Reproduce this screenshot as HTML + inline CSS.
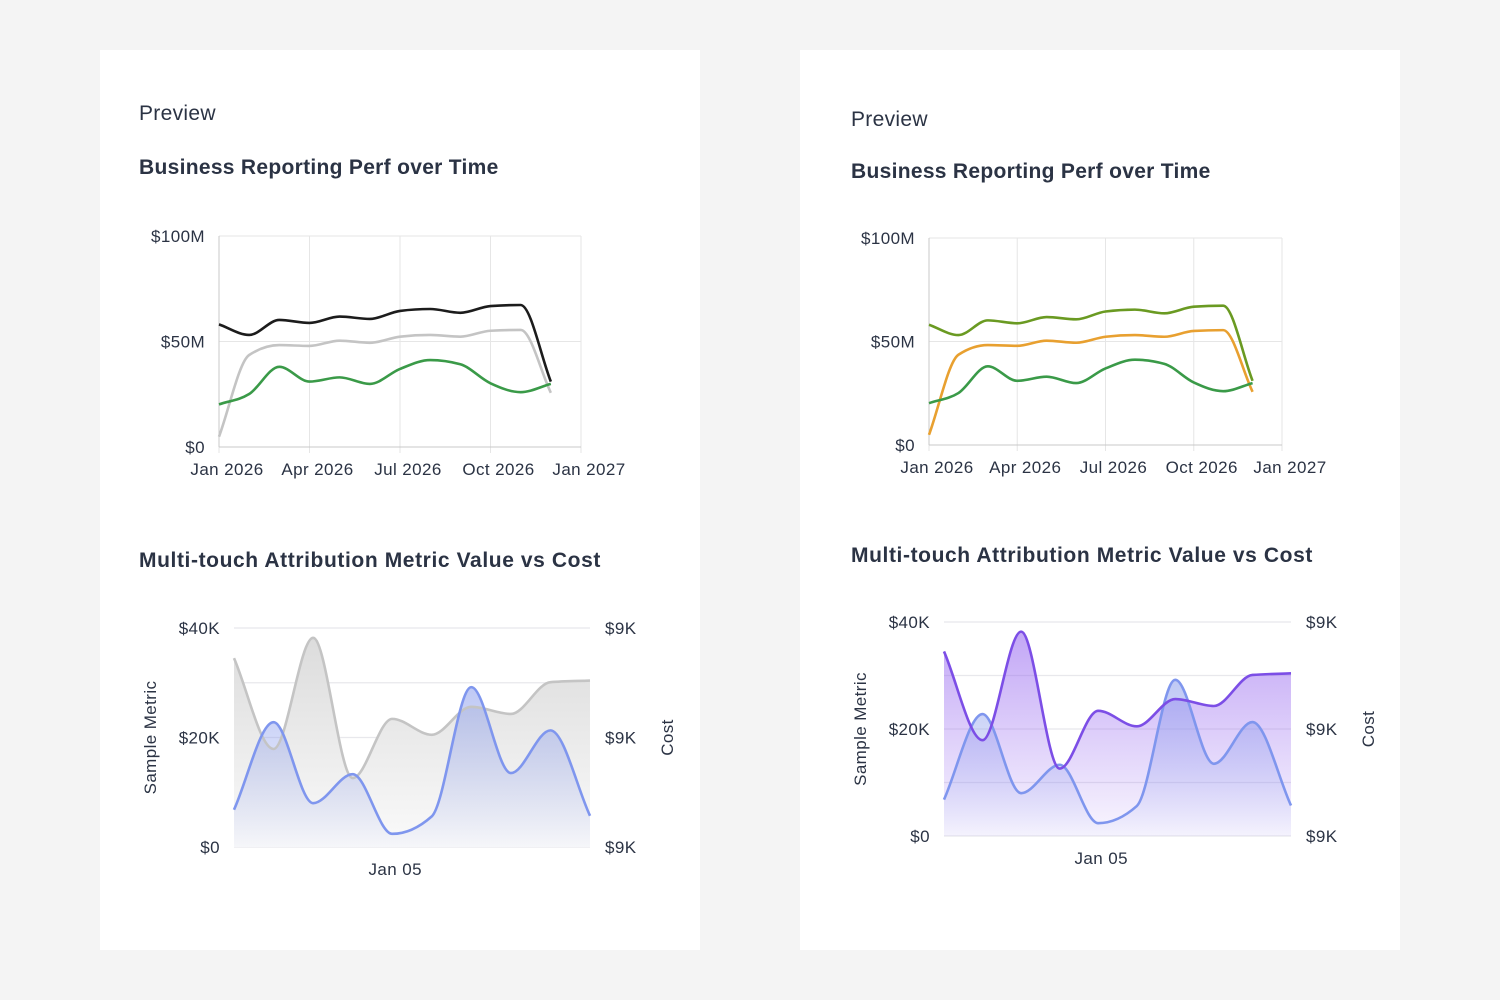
<!DOCTYPE html>
<html><head><meta charset="utf-8">
<style>
html,body{margin:0;padding:0;background:#f4f4f4;}
svg{display:block;font-family:"Liberation Sans",sans-serif;}
</style></head>
<body>
<svg id="page" width="1500" height="1000" viewBox="0 0 1500 1000" xmlns="http://www.w3.org/2000/svg">
<defs>
<linearGradient id="grayFill" x1="0" y1="0" x2="0" y2="1"><stop offset="0" stop-color="#dcdcdc"/><stop offset="1" stop-color="#fafafa"/></linearGradient>
<linearGradient id="blueFill" x1="0" y1="0" x2="0" y2="1"><stop offset="0" stop-color="#8a9cec" stop-opacity="0.55"/><stop offset="1" stop-color="#8a9cec" stop-opacity="0.04"/></linearGradient>
<linearGradient id="purpleFill" x1="0" y1="0" x2="0" y2="1"><stop offset="0" stop-color="#9a6cf0" stop-opacity="0.6"/><stop offset="1" stop-color="#9a6cf0" stop-opacity="0.06"/></linearGradient>
</defs>
<rect x="100" y="50" width="600" height="900" fill="#fff"/>
<rect x="800" y="50" width="600" height="900" fill="#fff"/>
<g id="layer"></g>
</svg>
<script>
// Time series chart data (values in $M)
const months = ['Jan','Feb','Mar','Apr','May','Jun','Jul','Aug','Sep','Oct','Nov','Dec'];
const seriesTop = [58.1,53.1,60.2,58.8,61.8,60.7,64.5,65.4,63.6,66.8,67.3,31.0];
const seriesMid = [4.9,43.6,48.3,47.9,50.4,49.4,52.3,53.1,52.3,55.1,55.5,25.7];
const seriesLow = [20.2,25.1,38.0,31.0,33.0,29.9,37.0,41.2,39.2,30.2,26.0,29.9];
const xTickLabels = ['Jan 2026','Apr 2026','Jul 2026','Oct 2026','Jan 2027'];
const yTickLabels = ['$0','$50M','$100M'];
const yTickValues = [0,50,100];
// Attribution chart data (values in $K)
const attrDays = ['Jan 01','Jan 02','Jan 03','Jan 04','Jan 05','Jan 06','Jan 07','Jan 08','Jan 09','Jan 10'];
const metricValues = [6.8,22.8,8.0,13.3,2.4,5.6,29.2,13.5,21.3,5.7];
const costValues = [34.5,17.9,38.2,12.6,23.4,20.5,25.6,24.3,30.1,30.4];
const attrLeftTicks = ['$0','$20K','$40K'];
const attrRightTicks = ['$9K','$9K','$9K'];
const attrTickValues = [0,20,40];

const NS='http://www.w3.org/2000/svg';
const layer=document.getElementById('layer');
const TS={'font-size':17,'letter-spacing':0.4,fill:'#2b3344'};
function mk(tag,attrs,parent){const e=document.createElementNS(NS,tag);for(const k in attrs)e.setAttribute(k,attrs[k]);(parent||layer).appendChild(e);return e;}
function txt(s,attrs,parent){const e=mk('text',Object.assign({},TS,attrs),parent);e.textContent=s;return e;}

function monotone(pts){
  const n=pts.length;if(n<2)return '';
  const dx=[],m=[],t=[];
  for(let i=0;i<n-1;i++){dx[i]=pts[i+1][0]-pts[i][0];m[i]=(pts[i+1][1]-pts[i][1])/dx[i];}
  t[0]=m[0];t[n-1]=m[n-2];
  for(let i=1;i<n-1;i++){
    if(m[i-1]*m[i]<=0)t[i]=0;
    else{const h0=dx[i-1],h1=dx[i];const p=(m[i-1]*h1+m[i]*h0)/(h0+h1);
      t[i]=(Math.sign(m[i-1])+Math.sign(m[i]))*Math.min(Math.abs(m[i-1]),Math.abs(m[i]),0.5*Math.abs(p));}
  }
  let d='M'+pts[0][0]+','+pts[0][1];
  for(let i=0;i<n-1;i++){const h=dx[i]/3;
    d+=' C'+(pts[i][0]+h)+','+(pts[i][1]+h*t[i])+' '+(pts[i+1][0]-h)+','+(pts[i+1][1]-h*t[i+1])+' '+pts[i+1][0]+','+pts[i+1][1];}
  return d;
}

function lineChart(o){
  const g=mk('g',{});
  
  
  const x=i=>o.x0+(o.x1-o.x0)*i/12;
  const y=v=>o.y0-(o.y0-o.y1)*v/100;
  for(let k=0;k<=4;k++){const gx=o.x0+(o.x1-o.x0)*k/4;
    mk('line',{x1:gx,y1:o.y1,x2:gx,y2:o.y0+6,stroke:'#e6e6e6','stroke-width':1},g);}
  yTickValues.forEach((v,i)=>{
    mk('line',{x1:o.x0,y1:y(v),x2:o.x1,y2:y(v),stroke:'#e6e6e6','stroke-width':1},g);
    const t=txt(yTickLabels[i],{x:o.x0-14,y:y(v)+6,'text-anchor':'end'},g);
    
    
  });
  mk('line',{x1:o.x0,y1:o.y1,x2:o.x0,y2:o.y0,stroke:'#c8c8c8'},g);
  mk('line',{x1:o.x0,y1:o.y0,x2:o.x1,y2:o.y0,stroke:'#c8c8c8'},g);
  xTickLabels.forEach((s,k)=>{
    const t=txt(s,{x:o.x0+(o.x1-o.x0)*k/4+8,y:o.y0+28,'text-anchor':'middle'},g);
    
    
  });
  [[seriesMid,o.c2],[seriesTop,o.c1],[seriesLow,o.c3]].forEach((s,si)=>{
    const p=mk('path',{d:monotone(s[0].map((v,i)=>[x(i),y(v)])),fill:'none',stroke:s[1],'stroke-width':2.6,'stroke-linejoin':'round'},g);
    
    
  });
}

function attrChart(o){
  const g=mk('g',{});
  
  
  const n=metricValues.length;
  const x=i=>o.x0+(o.x1-o.x0)*i/(n-1);
  const y=v=>o.y0-(o.y0-o.y1)*v/40;
  for(let k=0;k<=4;k++){const gy=o.y0-(o.y0-o.y1)*k/4;
    mk('line',{x1:o.x0,y1:gy,x2:o.x1,y2:gy,stroke:'#e8e8ec','stroke-width':1.2},g);}
  attrTickValues.forEach((v,i)=>{
    const t=txt(attrLeftTicks[i],{x:o.x0-14,y:y(v)+6,'text-anchor':'end'},g);
    
    
    const r=txt(attrRightTicks[i],{x:o.x1+15,y:y(v)+6},g);
    
    
  });
  const cx=x(4);
  const xl=txt('Jan 05',{x:cx+3,y:o.y0+28,'text-anchor':'middle'},g);
  
  
  const my=(o.y0+o.y1)/2;
  const lt=txt('Sample Metric',{x:0,y:0,transform:'translate('+(o.x0-78)+','+my+') rotate(-90)','text-anchor':'middle'},g);
  
  
  const rt=txt('Cost',{x:0,y:0,transform:'translate('+(o.x1+83)+','+my+') rotate(-90)','text-anchor':'middle'},g);
  
  
  const cd=monotone(costValues.map((v,i)=>[x(i),y(v)]));
  const md=monotone(metricValues.map((v,i)=>[x(i),y(v)]));
  const base=' L'+o.x1+','+o.y0+' L'+o.x0+','+o.y0+' Z';
  const ca=mk('path',{d:cd+base,fill:o.costFill,stroke:'none'},g);
  
  
  const ma=mk('path',{d:md+base,fill:'url(#blueFill)',stroke:'none'},g);
  
  
  const ml=mk('path',{d:md,fill:'none',stroke:'#7f96ee','stroke-width':2.6},g);
  
  
  const cl=mk('path',{d:cd,fill:'none',stroke:o.costLine,'stroke-width':2.6},g);
  
  
  if(o.metricTop){g.appendChild(ml);}
}

function header(x,py,ty,by){
  const a=txt('Preview',{x:x,y:py,'font-size':21,'letter-spacing':0.3});
  
  
  const b=txt('Business Reporting Perf over Time',{x:x,y:ty,'font-size':21,'letter-spacing':0.3,'font-weight':'bold'});
  
  
  const c=txt('Multi-touch Attribution Metric Value vs Cost',{x:x,y:by,'font-size':21,'letter-spacing':0.6,'font-weight':'bold'});
  
  
}

header(139,120,174,567);
header(851,126,178,562);
lineChart({name:'left-time-chart',x0:219,x1:581,y0:447,y1:236,c1:'#1c1c1c',c2:'#c4c4c4',c3:'#3a9a48'});
lineChart({name:'right-time-chart',x0:929,x1:1282,y0:445,y1:238,c1:'#6a9a22',c2:'#e8a030',c3:'#3a9a48'});
attrChart({name:'left-attribution-chart',x0:234,x1:590,y0:847,y1:628,costFill:'url(#grayFill)',costLine:'#c4c4c4',metricTop:true});
attrChart({name:'right-attribution-chart',x0:944,x1:1291,y0:836,y1:622,costFill:'url(#purpleFill)',costLine:'#7c4ee6',metricTop:false});
</script>
</body></html>
